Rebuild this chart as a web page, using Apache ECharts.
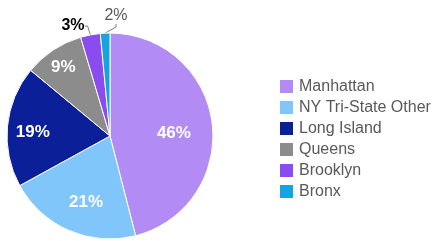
<!DOCTYPE html>
<html>
<head>
<meta charset="utf-8">
<script src="https://cdn.jsdelivr.net/npm/echarts@6/dist/echarts.min.js"></script>
<style>
  html, body { margin: 0; padding: 0; background: #fff; }
  #chart { width: 442px; height: 241px; }
</style>
</head>
<body>
<div id="chart"></div>
<script>
// data
const regions = ["Manhattan", "NY Tri-State Other", "Long Island", "Queens", "Brooklyn", "Bronx"];
const shares = [46, 21, 19, 9.4, 3.1, 1.5];
const colors = ["#b28cf4", "#80c6fa", "#0b1f99", "#8c8c8c", "#8a4cee", "#14a4df"];
// slices too small for an inside label
const outsideIdx = [4, 5];

const chart = echarts.init(document.getElementById("chart"));

const pct = (p) => Math.round(p.value) + "%";

const mainData = regions.map((name, i) => {
  const item = { name: name, value: shares[i], itemStyle: { color: colors[i] } };
  if (outsideIdx.includes(i)) {
    item.label = {
      show: true,
      position: "outside",
      color: i === 4 ? "#000" : "#595959",
      fontWeight: i === 4 ? "bold" : "normal",
      fontSize: 16,
    };
    item.labelLine = {
      show: true,
      length: 6,
      length2: 3,
      lineStyle: { color: "#7f7f7f", width: 1 },
    };
  }
  return item;
});

const labelData = regions.map((name, i) => ({
  name: name,
  value: shares[i],
  label: { show: !outsideIdx.includes(i) },
}));

// nudges so the labels sit where the original put them
const insideNudge = [[-11, 7], [6, -3], [-2, 3], [-5, -6]];
const outsidePos = { 4: [73, 26], 5: [116, 16] };

const option = {
  animation: false,
  legend: {
    orient: "vertical",
    left: 273,
    top: 73,
    itemWidth: 15,
    itemHeight: 15,
    itemGap: 4,
    icon: "rect",
    data: regions,
    textStyle: {
      color: "#595959",
      fontSize: 16,
      fontFamily: "Liberation Sans, Arial, sans-serif",
    },
  },
  series: [
    {
      type: "pie",
      center: [110, 136],
      radius: [0, 103],
      startAngle: 90,
      clockwise: true,
      data: mainData,
      itemStyle: { borderColor: "#fff", borderWidth: 1 },
      label: {
        show: false,
        formatter: pct,
        fontFamily: "Liberation Sans, Arial, sans-serif",
      },
      labelLine: { show: false },
      labelLayout: function (p) {
        const pos = outsidePos[p.dataIndex];
        if (pos) {
          return { x: pos[0], y: pos[1], align: "center", verticalAlign: "middle" };
        }
      },
      emphasis: { disabled: true },
    },
    {
      // transparent copy, only carries the inside labels
      type: "pie",
      silent: true,
      center: [110, 136],
      radius: [42, 103],
      startAngle: 90,
      clockwise: true,
      data: labelData,
      itemStyle: { color: "transparent" },
      label: {
        position: "inside",
        formatter: pct,
        color: "#fff",
        fontSize: 17,
        fontWeight: "bold",
        fontFamily: "Liberation Sans, Arial, sans-serif",
      },
      labelLine: { show: false },
      labelLayout: function (p) {
        const n = insideNudge[p.dataIndex];
        if (n) return { dx: n[0], dy: n[1] };
      },
    },
  ],
};

chart.setOption(option);
</script>
</body>
</html>
